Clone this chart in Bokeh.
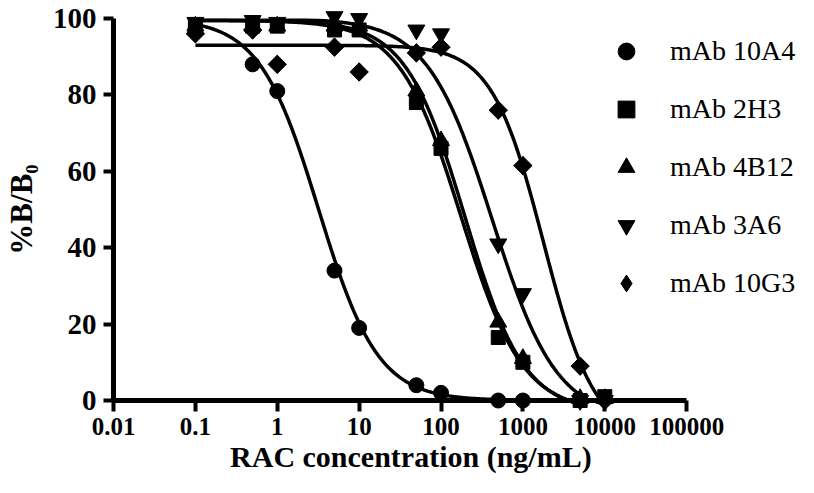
import numpy as np
from bokeh.plotting import figure
from bokeh.models import (Range1d, FixedTicker, CustomJSTickFormatter, Legend,
                          LegendItem, Title)
from bokeh.embed import file_html
from bokeh.resources import INLINE

# ---- data ----
conc = [0.1, 0.5, 1, 5, 10, 50, 100, 500, 1000, 5000, 10000]

names = ["mAb 10A4", "mAb 2H3", "mAb 4B12", "mAb 3A6", "mAb 10G3"]
markers = ["circle", "square", "triangle", "inverted_triangle", "diamond"]

y_10A4 = [97, 88, 81, 34, 19, 4, 2, 0, 0]
y_2H3 = [98, 98, 98, 97, 97, 78, 66, 16.5, 10, 0, 1]
y_4B12 = [98, 98, 98, 98, 98, 81, 68, 20.5, 11, 0.5, 0.5]
y_3A6 = [99, 99.5, 99, 100.5, 100, 97, 96, 41, 28, 0, 0]
y_10G3 = [96, 97, 88, 92.5, 86, 91, 92.5, 76, 61.5, 9, 0]

series_y = [y_10A4, y_2H3, y_4B12, y_3A6, y_10G3]

# four-parameter logistic fit parameters (top, bottom, IC50, Hill slope)
fit_top = [100, 99.5, 99.5, 100, 93]
fit_bottom = [0, -3, -3, -5, -10]
fit_ic50 = [3.2, 175, 195, 420, 1780]
fit_hill = [1.2, 1.15, 1.2, 1.1, 1.38]

x_ticks = [0.01, 0.1, 1, 10, 100, 1000, 10000, 100000]
y_ticks = [0, 20, 40, 60, 80, 100]

x_title = "RAC concentration (ng/mL)"
y_title = "%B/B\u2080"

SERIF = "Liberation Serif"

# layout: the axis spans 0.01..1e5 over 574 px; the frame continues to the
# right edge (legend area), the axis itself is bounded to 0.01..1e5
W, H = 798, 477
LEFT, TOP, BOTTOM = 112, 18, 77
AXIS_PX = 574
frame_w = W - LEFT
decades = np.log10(x_ticks[-1]) - np.log10(x_ticks[0])
x_end = 10 ** (np.log10(x_ticks[-1]) + (frame_w - AXIS_PX) * decades / AXIS_PX)

p = figure(width=W, height=H, output_backend="svg", toolbar_location=None,
           x_axis_type="log", x_range=Range1d(x_ticks[0], x_end),
           y_range=Range1d(0, 100),
           min_border_left=LEFT, min_border_right=0, min_border_top=TOP,
           min_border_bottom=BOTTOM)
p.outline_line_color = None
p.grid.visible = False
p.background_fill_color = "white"
p.border_fill_color = "white"

legend_items = []
for i, name in enumerate(names):
    ys = series_y[i]
    xs = conc[:len(ys)]
    # fitted curve across the measured range
    xc = np.logspace(np.log10(xs[0]), np.log10(xs[-1]), 300)
    yc = fit_bottom[i] + (fit_top[i] - fit_bottom[i]) / (1 + (xc / fit_ic50[i]) ** fit_hill[i])
    p.line(xc, yc, line_color="black", line_width=3.5)
    mk = markers[i]
    if mk == "diamond":
        # a square turned 45 degrees gives the even diamond of the reference
        p.scatter(xs, ys, marker="square", size=13, angle=np.pi / 4,
                  fill_color="black", line_color="black", level="overlay")
        r = p.scatter(xs, ys, marker="diamond", size=18,
                      fill_color="black", line_color="black", level="overlay")
    else:
        size = {"circle": 15, "square": 14, "triangle": 17, "inverted_triangle": 17}[mk]
        r = p.scatter(xs, ys, marker=mk, size=size,
                      fill_color="black", line_color="black", level="overlay")
    legend_items.append(LegendItem(label=name, renderers=[r]))

# axes
for ax in (p.xaxis[0], p.yaxis[0]):
    ax.axis_line_width = 5
    ax.axis_line_color = "black"
    ax.major_tick_line_width = 4
    ax.major_tick_line_color = "black"
    ax.major_tick_in = 0
    ax.minor_tick_line_color = None
    ax.major_label_text_font = SERIF
    ax.major_label_text_font_style = "bold"
    ax.major_label_text_color = "black"
    ax.axis_label_text_font = SERIF
    ax.axis_label_text_font_style = "bold"
    ax.axis_label_text_color = "black"

p.xaxis.bounds = (x_ticks[0], x_ticks[-1])
p.xaxis.ticker = FixedTicker(ticks=x_ticks)
p.xaxis.formatter = CustomJSTickFormatter(code="return tick.toString();")
p.xaxis.major_tick_out = 11
p.xaxis.major_label_text_font_size = "25px"
p.xaxis.major_label_standoff = 6

p.yaxis.ticker = FixedTicker(ticks=y_ticks)
p.yaxis.major_tick_out = 10
p.yaxis.major_label_text_font_size = "29px"
p.yaxis.major_label_standoff = 7
p.yaxis.axis_label = y_title
p.yaxis.axis_label_text_font_size = "31px"
p.yaxis.axis_label_standoff = 11

# x title centred under the bounded axis (not under the wider frame)
title_px = 30
title_w = 12.03 * title_px
title_offset = AXIS_PX / 2 - title_w / 2 + 10
xt = Title(text=x_title, align="left", offset=title_offset, standoff=0,
           text_font=SERIF, text_font_size=f"{title_px}px",
           text_font_style="bold", text_color="black")
p.add_layout(xt, "below")

legend = Legend(items=legend_items, location=(492, 96),
                border_line_color=None, background_fill_alpha=0,
                label_text_font=SERIF, label_text_font_size="28px",
                label_text_color="black",
                glyph_width=42, glyph_height=42, label_height=42,
                label_standoff=23, spacing=16, padding=10, margin=0)
p.add_layout(legend, "center")

open("out.html", "w").write(file_html(p, INLINE))
